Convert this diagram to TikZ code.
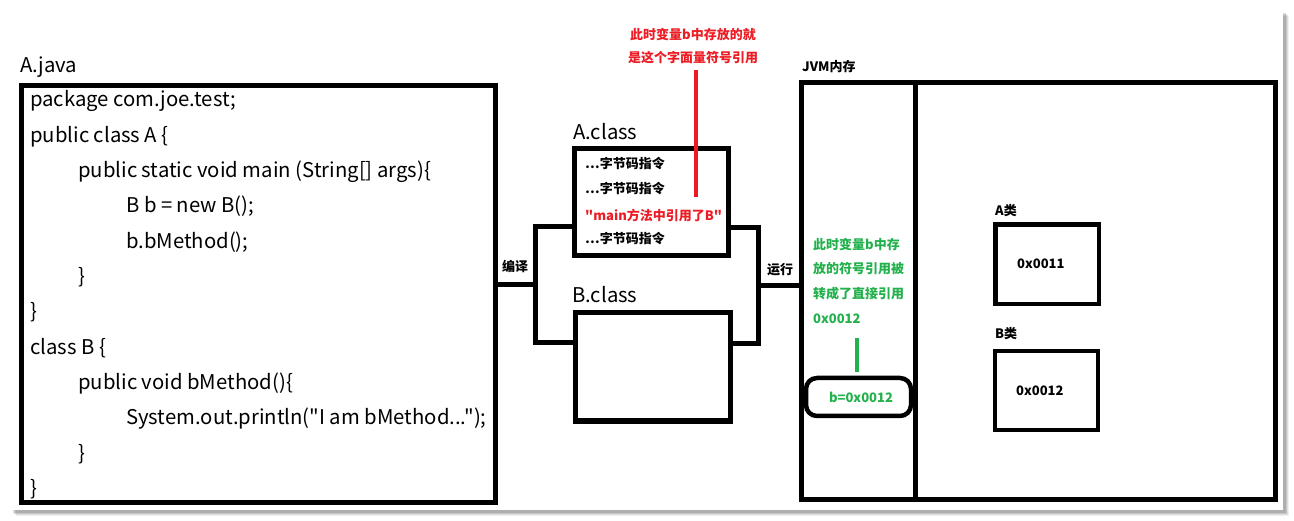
\documentclass[tikz,border=0pt]{standalone}
\usepackage{fontspec}
\setmainfont{Noto Sans CJK SC}[Ligatures=TeXOff]
\definecolor{pred}{HTML}{ED1C24}
\definecolor{pgreen}{HTML}{22B14C}
\begin{document}
\begin{tikzpicture}[x=1pt,y=-1pt,
  box/.style={draw,line width=5pt,inner sep=0pt,outer sep=0pt,rectangle},
  conn/.style={line width=5pt,line join=miter},
  big/.style={font=\fontsize{20.3}{22}\selectfont,inner sep=0pt,anchor=base west},
  small/.style={font=\fontsize{13}{15}\selectfont\bfseries,inner sep=0pt},
  code/.style={big}]
\useasboundingbox (0,0) rectangle (1294,521);
% page with shadow
\foreach \o/\a in {6/0.06,5/0.08,4/0.1,3/0.12}{
  \fill[black,opacity=\a] (10+\o,10+\o) rectangle (1283+\o,510+\o);}
\fill[white] (10,10) rectangle (1283,510);

% A.java
\node[big] (ajlabel) at (20,73) {A.java};
\node[box,minimum width=474pt,minimum height=417pt] (ajava) at (258.5,294) {};
\foreach \t/\x [count=\i from 0] in {
  {package com.joe.test;}/30,
  {public class A \{}/30,
  {public static void main (String[] args)\{}/78,
  {B b = new B();}/126,
  {b.bMethod();}/126,
  {\}}/78,
  {\}}/30,
  {class B \{}/30,
  {public void bMethod()\{}/78,
  {System.out.println("I am bMethod...");}/126,
  {\}}/78,
  {\}}/30}{
  \node[code] (code\i) at (\x,107+35.3*\i) {\t};
}

% A.class
\node[big] (aclabel) at (573,140) {A.class};
\node[box,minimum width=154pt,minimum height=107.5pt] (aclass) at (651.5,202.25) {};
\node[small,anchor=west] (ac1) at (585,164) {…字节码指令};
\node[small,anchor=west] (ac2) at (585,189) {…字节码指令};
\node[small,anchor=west,text=pred] (ac3) at (585,215) {"main方法中引用了B"};
\node[small,anchor=west] (ac4) at (585,239) {…字节码指令};

% B.class
\node[big] (bclabel) at (572,303) {B.class};
\node[box,minimum width=155pt,minimum height=108pt] (bclass) at (653,367) {};

% red note
\node[small,text=pred] (rn1) at (693,35) {此时变量b中存放的就};
\node[small,text=pred] (rn2) at (693,58) {是这个字面量符号引用};
\coordinate (r1) at (696,70);
\coordinate (r2) at (696,197);
\draw[line width=4.5pt,pred] (r1) -- (r2);

% compile connectors
\coordinate (cj) at (535,285);
\coordinate (ja) at (535,227);
\coordinate (jb) at (535,343);
\draw[conn] (ajava.east |- cj) -- (cj);
\draw[conn] (aclass.west |- ja) -- (ja) -- (jb) -- (bclass.west |- jb);
\node[small] (compile) at (515,267) {编译};

% run connectors
\coordinate (ra) at (758,228);
\coordinate (rb) at (758,344);
\coordinate (rc) at (758,286);
\draw[conn] (aclass.east |- ra) -- (ra) -- (rb) -- (bclass.east |- rb);
\node[small] (run) at (780,270) {运行};

% JVM
\node[small,anchor=west] (jvmlabel) at (802,67) {JVM内存};
\node[box,minimum width=473.5pt,minimum height=416.5pt] (jvm) at (1038.25,291.25) {};
\draw[conn] (rc) -- (jvm.west |- rc);
\coordinate (dv) at (915.5,0);
\draw[line width=5pt] (jvm.north -| dv) -- (jvm.south -| dv);

% green note
\node[small,anchor=west,text=pgreen] (g1) at (813,244) {此时变量b中存};
\node[small,anchor=west,text=pgreen] (g2) at (813,269) {放的符号引用被};
\node[small,anchor=west,text=pgreen] (g3) at (813,294) {转成了直接引用};
\node[small,anchor=west,text=pgreen] (g4) at (813,319) {0x0012};
\coordinate (gl1) at (857,338);
\coordinate (gl2) at (857,372);
\draw[line width=4pt,pgreen] (gl1) -- (gl2);
\node[draw,line width=4.5pt,rounded corners=11pt,minimum width=105pt,minimum height=38pt,inner sep=0pt,
  font=\fontsize{13}{15}\selectfont\bfseries,text=pgreen] (bvar) at (858.5,397) {\hspace{5pt}b=0x0012};

% class boxes
\node[small,anchor=west] (alabel) at (995,211) {A类};
\node[box,line width=4.5pt,minimum width=103.5pt,minimum height=79.5pt] (abox) at (1047.25,264.25) {};
\node[small,anchor=west] (aaddr) at (1017,264) {0x0011};
\node[small,anchor=west] (blabel) at (995,334) {B类};
\node[box,line width=4.5pt,minimum width=103pt,minimum height=79pt] (bbox) at (1046.5,390.5) {};
\node[small,anchor=west] (baddr) at (1016,391) {0x0012};
\end{tikzpicture}
\end{document}
